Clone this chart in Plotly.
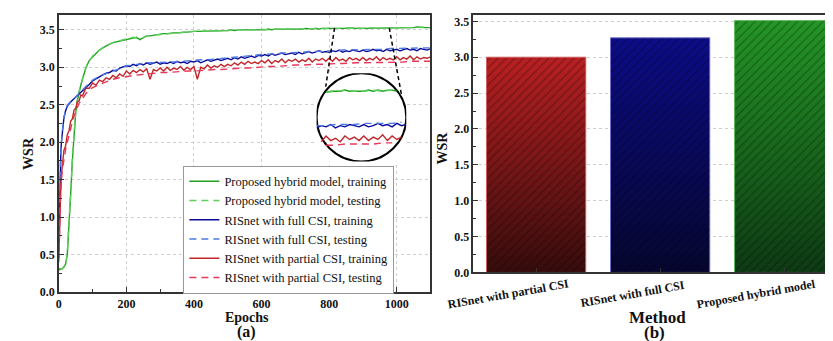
import plotly.graph_objects as go

# ---------------- data: panel (a) ----------------
EPOCHS_TRAIN = [0, 2, 4, 6, 8, 10, 12, 15, 20, 25, 30, 35, 40, 45, 50, 55, 60, 65, 70, 80, 90] + list(range(100, 1101, 10))
EPOCHS_TEST = [0, 5, 10, 15, 20, 25, 30, 35, 40, 45, 50, 55, 60, 70, 80, 90, 100] + list(range(120, 1101, 20))

GREEN_TRAIN = [0.32, 0.30, 0.31, 0.30, 0.31, 0.31, 0.32, 0.34, 0.37, 0.50, 0.85, 1.30, 1.75, 2.12, 2.40, 2.56, 2.67, 2.76, 2.84, 2.99, 3.09,
               3.14, 3.19, 3.23, 3.26, 3.29, 3.31, 3.33, 3.34, 3.36, 3.37,
               3.38, 3.39, 3.40, 3.40, 3.37, 3.40, 3.42, 3.42, 3.43, 3.44,
               3.44, 3.45, 3.45, 3.46, 3.46, 3.46, 3.47, 3.47, 3.47, 3.48,
               3.48, 3.48, 3.48, 3.49, 3.48, 3.49, 3.49, 3.49, 3.49, 3.49,
               3.49, 3.50, 3.49, 3.50, 3.50, 3.50, 3.50, 3.49, 3.50, 3.50,
               3.50, 3.50, 3.51, 3.50, 3.51, 3.51, 3.50, 3.51, 3.51, 3.51,
               3.51, 3.51, 3.51, 3.52, 3.51, 3.51, 3.52, 3.51, 3.52, 3.52,
               3.52, 3.52, 3.51, 3.52, 3.52, 3.52, 3.53, 3.52, 3.52, 3.52,
               3.52, 3.53, 3.52, 3.53, 3.52, 3.53, 3.53, 3.52, 3.53, 3.53,
               3.53, 3.52, 3.53, 3.53, 3.53, 3.53, 3.54, 3.53, 3.53, 3.53,
               3.53]
GREEN_TEST = [0.31, 0.31, 0.31, 0.33, 0.36, 0.52, 0.86, 1.32, 1.77, 2.13, 2.41, 2.57, 2.68, 2.85, 3.00, 3.09, 3.15,
              3.23, 3.29, 3.33, 3.36, 3.38, 3.40, 3.38, 3.42, 3.43, 3.44,
              3.45, 3.46, 3.47, 3.47, 3.48, 3.48, 3.49, 3.48, 3.49, 3.49,
              3.50, 3.50, 3.49, 3.50, 3.51, 3.50, 3.51, 3.51, 3.51, 3.51,
              3.52, 3.51, 3.52, 3.52, 3.52, 3.51, 3.52, 3.53, 3.52, 3.52,
              3.53, 3.52, 3.53, 3.53, 3.53, 3.52, 3.53, 3.54, 3.53, 3.53]
BLUE_TRAIN = [0.55, 1.25, 1.62, 1.88, 2.02, 2.13, 2.21, 2.32, 2.42, 2.48, 2.51, 2.54, 2.56, 2.58, 2.60, 2.62, 2.64, 2.66, 2.69, 2.73, 2.77,
              2.82, 2.85, 2.87, 2.90, 2.92, 2.93, 2.96, 2.95, 2.99, 3.00,
              3.02, 3.01, 3.04, 3.02, 3.05, 3.03, 3.06, 3.04, 3.05, 3.07,
              3.04, 3.06, 3.05, 3.07, 3.05, 3.08, 3.06, 3.07, 3.05, 3.08,
              3.07, 3.09, 3.06, 3.08, 3.10, 3.08, 3.09, 3.11, 3.09, 3.10,
              3.12, 3.10, 3.13, 3.11, 3.14, 3.12, 3.14, 3.15, 3.13, 3.16,
              3.15, 3.17, 3.15, 3.18, 3.16, 3.17, 3.19, 3.17, 3.18, 3.19,
              3.17, 3.20, 3.18, 3.19, 3.21, 3.19, 3.20, 3.22, 3.20, 3.21,
              3.20, 3.22, 3.21, 3.23, 3.20, 3.22, 3.21, 3.23, 3.22, 3.21,
              3.23, 3.21, 3.22, 3.24, 3.22, 3.23, 3.21, 3.24, 3.22, 3.23,
              3.24, 3.22, 3.23, 3.25, 3.23, 3.24, 3.22, 3.25, 3.24, 3.23,
              3.25]
BLUE_TEST = [0.55, 1.78, 2.14, 2.33, 2.43, 2.49, 2.52, 2.54, 2.57, 2.59, 2.61, 2.63, 2.65, 2.70, 2.74, 2.79, 2.83,
             2.88, 2.92, 2.95, 2.98, 3.02, 3.03, 3.05, 3.06, 3.06, 3.07,
             3.07, 3.07, 3.08, 3.08, 3.09, 3.10, 3.10, 3.11, 3.11, 3.13,
             3.13, 3.14, 3.15, 3.16, 3.17, 3.17, 3.18, 3.19, 3.19, 3.20,
             3.20, 3.21, 3.21, 3.22, 3.22, 3.22, 3.23, 3.23, 3.23, 3.24,
             3.24, 3.24, 3.24, 3.25, 3.25, 3.25, 3.25, 3.26, 3.26, 3.26]
RED_TRAIN = [0.45, 0.92, 1.18, 1.42, 1.58, 1.72, 1.76, 1.89, 1.95, 2.10, 2.15, 2.28, 2.31, 2.43, 2.45, 2.54, 2.55, 2.63, 2.62, 2.72, 2.72,
             2.79, 2.76, 2.83, 2.81, 2.86, 2.84, 2.89, 2.86, 2.91, 2.88,
             2.95, 2.91, 2.96, 2.93, 2.97, 2.94, 2.98, 2.84, 2.97, 2.95,
             2.99, 2.95, 3.00, 2.96, 2.99, 2.97, 3.01, 2.96, 3.00, 2.97,
             3.01, 2.84, 3.00, 2.98, 3.03, 2.99, 3.02, 3.00, 3.04, 3.01,
             3.04, 3.02, 3.06, 3.03, 3.07, 3.04, 3.08, 3.05, 3.07, 3.05,
             3.09, 3.06, 3.10, 3.05, 3.09, 3.07, 3.11, 3.06, 3.10, 3.08,
             3.11, 3.07, 3.10, 3.08, 3.12, 3.07, 3.11, 3.09, 3.12, 3.08,
             3.12, 3.08, 3.13, 3.09, 3.11, 3.08, 3.13, 3.10, 3.12, 3.09,
             3.13, 3.09, 3.12, 3.10, 3.14, 3.09, 3.13, 3.10, 3.12, 3.10,
             3.14, 3.10, 3.13, 3.11, 3.15, 3.10, 3.14, 3.11, 3.13, 3.12,
             3.14]
RED_TEST = [0.40, 1.30, 1.62, 1.80, 1.90, 2.00, 2.10, 2.18, 2.27, 2.35, 2.41, 2.47, 2.52, 2.58, 2.65, 2.69, 2.73,
            2.77, 2.81, 2.84, 2.86, 2.88, 2.89, 2.90, 2.91, 2.91, 2.93,
            2.93, 2.94, 2.94, 2.95, 2.95, 2.96, 2.96, 2.97, 2.97, 2.98,
            2.98, 2.99, 2.99, 3.00, 3.00, 3.01, 3.01, 3.02, 3.02, 3.03,
            3.03, 3.04, 3.04, 3.04, 3.05, 3.05, 3.05, 3.06, 3.06, 3.06,
            3.06, 3.07, 3.07, 3.07, 3.07, 3.07, 3.08, 3.08, 3.08, 3.08]

SERIES_NAMES = ["Proposed hybrid model, training", "Proposed hybrid model, testing",
                "RISnet with full CSI, training", "RISnet with full CSI, testing",
                "RISnet with partial CSI, training", "RISnet with partial CSI, testing"]
# epoch windows shown inside the magnifier circle
INSET_WINDOWS = [(820, 970), (820, 960), (800, 990), (800, 980), (810, 980), (820, 960)]

# ---------------- data: panel (b) ----------------
METHODS = ["RISnet with partial CSI", "RISnet with full CSI", "Proposed hybrid model"]
WSR_FINAL = [3.00, 3.27, 3.51]

# ---------------- styles ----------------
FONT = "Liberation Serif"
LINE_COLORS = ["#22a022", "#5ad05a", "#0a0a9a", "#4d7be6", "#c0262a", "#e6385a"]
LINE_DASH = ["solid", "7px,5px", "solid", "7px,5px", "solid", "7px,5px"]
BAR_TOP = [(185, 32, 34), (12, 12, 135), (36, 150, 38)]
BAR_BOTTOM = [(55, 12, 12), (6, 6, 48), (14, 58, 20)]
BAR_EDGE = ["#d06060", "#7070c8", "#60b860"]

fig = go.Figure()

series = [(EPOCHS_TRAIN, GREEN_TRAIN), (EPOCHS_TEST, GREEN_TEST),
          (EPOCHS_TRAIN, BLUE_TRAIN), (EPOCHS_TEST, BLUE_TEST),
          (EPOCHS_TRAIN, RED_TRAIN), (EPOCHS_TEST, RED_TEST)]

for i, ((ex, ey), name) in enumerate(zip(series, SERIES_NAMES)):
    fig.add_trace(go.Scatter(x=ex, y=ey, mode="lines", name=name,
                             line=dict(color=LINE_COLORS[i], width=1.4, dash=LINE_DASH[i]),
                             xaxis="x", yaxis="y"))

# inset (magnified view)
for i, (ex, ey) in enumerate(series):
    lo, hi = INSET_WINDOWS[i]
    sx = [e for e in ex if lo <= e <= hi]
    sy = [v for e, v in zip(ex, ey) if lo <= e <= hi]
    fig.add_trace(go.Scatter(x=sx, y=sy, mode="lines", showlegend=False,
                             line=dict(color=LINE_COLORS[i], width=1.4, dash=LINE_DASH[i]),
                             xaxis="x3", yaxis="y3", hoverinfo="skip"))

# bars with vertical gradient (stacked, slightly overlapping slices) + hatch overlay
N = 40
for k in range(N):
    t = (k + 0.5) / N
    cols = ["rgb(%d,%d,%d)" % tuple(round(b + (tp - b) * t) for b, tp in zip(BAR_BOTTOM[j], BAR_TOP[j]))
            for j in range(len(METHODS))]
    h = [v / N * (1.0 if k == N - 1 else 1.6) for v in WSR_FINAL]
    fig.add_trace(go.Bar(x=METHODS, y=h, base=[v * k / N for v in WSR_FINAL],
                         width=0.8, marker=dict(color=cols, line=dict(width=0)),
                         showlegend=False, hoverinfo="skip", xaxis="x2", yaxis="y2"))
fig.add_trace(go.Bar(x=METHODS, y=WSR_FINAL, width=0.8, showlegend=False,
                     marker=dict(color="rgba(0,0,0,0)", line=dict(color=BAR_EDGE, width=1),
                                 pattern=dict(shape="/", fgcolor="rgba(0,0,0,0.55)", bgcolor="rgba(0,0,0,0)",
                                              size=6, solidity=0.22, fillmode="overlay")),
                     xaxis="x2", yaxis="y2"))

W, H = 833, 341
tickfont = dict(family=FONT, size=12, color="#111", weight="bold")
axis_common = dict(showline=True, linecolor="#333", linewidth=1.5, ticks="inside", ticklen=5,
                   tickcolor="#333", tickfont=tickfont,
                   gridcolor="#cfcfcf", griddash="dot", gridwidth=1, zeroline=False)

fig.update_layout(
    width=W, height=H, margin=dict(l=0, r=0, t=0, b=0),
    paper_bgcolor="white", plot_bgcolor="white", barmode="overlay",
    font=dict(family=FONT, color="#111"),
    xaxis=dict(domain=[48 / W, 421 / W], range=[0, 1100], dtick=200, anchor="y", mirror=True, showgrid=True,
               minor=dict(ticks="inside", ticklen=3, dtick=100, tickcolor="#333"), **axis_common),
    yaxis=dict(domain=[51 / H, 334 / H], range=[0, 3.70], dtick=0.5, tickformat=".1f", anchor="x", mirror=True,
               showgrid=True, minor=dict(ticks="inside", ticklen=3, dtick=0.25, tickcolor="#333"), **axis_common),
    xaxis2=dict(domain=[464 / W, 1.0], range=[-0.506, 2.458], anchor="y2", mirror=True, showticklabels=False,
                showgrid=False, **axis_common),
    yaxis2=dict(domain=[71 / H, 334 / H], range=[0, 3.59], dtick=0.5, tickformat=".1f", anchor="x2", mirror=False,
                showgrid=True, minor=dict(ticks="inside", ticklen=3, dtick=0.25, tickcolor="#333"), **axis_common),
    xaxis3=dict(domain=[306.7 / W, 396.7 / W], range=[800, 990], anchor="y3",
                showgrid=False, showline=False, showticklabels=False, ticks="", zeroline=False),
    yaxis3=dict(domain=[184.3 / H, 274.3 / H], range=[2.908, 3.676], anchor="x3",
                showgrid=False, showline=False, showticklabels=False, ticks="", zeroline=False),
    legend=dict(x=173 / W, y=(H - 161) / H, xanchor="left", yanchor="top",
                bgcolor="white", bordercolor="#999", borderwidth=1,
                font=dict(family=FONT, size=12.5, color="#111"), tracegroupgap=0),
)

# magnifier circle and connector lines
fig.add_shape(type="circle", xref="x3", yref="y3", x0=800, x1=990, y0=2.908, y1=3.676,
              fillcolor="white", line=dict(color="black", width=2), layer="between")
fig.add_shape(type="line", xref="x", yref="y", x0=816, y0=3.526, x1=790, y1=2.743,
              line=dict(color="black", width=1.5, dash="4px,3px"), layer="above")
fig.add_shape(type="line", xref="x", yref="y", x0=978, y0=3.526, x1=1015, y1=2.612,
              line=dict(color="black", width=1.5, dash="4px,3px"), layer="above")

bold = lambda s: "<b>%s</b>" % s
ann = [
    dict(text=bold("WSR"), x=18 / W, y=(H - 148) / H, textangle=-90, size=14),
    dict(text=bold("Epochs"), x=237 / W, y=(H - 316) / H, size=14),
    dict(text=bold("(a)"), x=236 / W, y=(H - 331) / H, size=16),
    dict(text=bold("WSR"), x=433 / W, y=(H - 143) / H, textangle=-90, size=14),
    dict(text=bold("Method"), x=649 / W, y=(H - 316) / H, size=17),
    dict(text=bold("(b)"), x=646 / W, y=(H - 331) / H, size=17),
]
for a in ann:
    fig.add_annotation(xref="paper", yref="paper", showarrow=False, xanchor="center", yanchor="middle",
                       font=dict(family=FONT, color="#111", size=a["size"]),
                       text=a["text"], x=a["x"], y=a["y"], textangle=a.get("textangle", 0))
for m in METHODS:
    fig.add_annotation(xref="x2", yref="paper", x=m, y=(H - 292) / H, text=bold(m), showarrow=False,
                       xanchor="center", yanchor="middle", textangle=-10, xshift=-28,
                       font=dict(family=FONT, size=12, color="#111"))

fig.write_html("out.html")
